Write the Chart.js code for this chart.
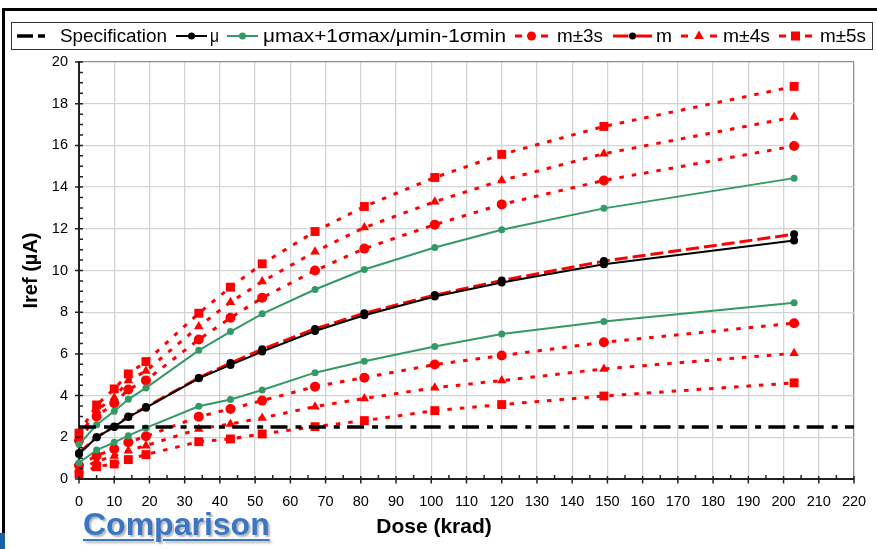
<!DOCTYPE html>
<html>
<head>
<meta charset="utf-8">
<script src="https://cdn.jsdelivr.net/npm/chart.js@4.4.1/dist/chart.umd.min.js"></script>
<style>
  html, body { margin: 0; padding: 0; background: #fff; }
  #wrap { position: relative; width: 877px; height: 549px; overflow: hidden; }
  #chart { position: absolute; left: 0; top: 0; }
  .bar { position: absolute; background: #000; }
  #comparison {
    position: absolute; left: 83px; top: 508px;
    font: bold 32px "Liberation Sans", Arial, sans-serif; line-height: 32px;
    color: #3a76c4; text-decoration: underline; text-decoration-thickness: 2px;
    text-underline-offset: 4px; text-shadow: 2px 2px 2px rgba(0,0,0,0.3);
  }
</style>
</head>
<body>
<div id="wrap">
  <canvas id="chart" width="877" height="549"></canvas>
  <div class="bar" style="left:2px;top:8px;width:875px;height:3px"></div>
  <div class="bar" style="left:2px;top:8px;width:3px;height:525px"></div>
  <div class="bar" style="left:0;top:533px;width:5px;height:16px;background:#1b5fa8"></div>
  <div id="comparison">Comparison</div>
</div>
<script>
// dose points (krad)
const doses = [0, 5, 10, 14, 19, 34, 43, 52, 67, 81, 101, 120, 149, 203];

// Iref (uA)
const mu   = [1.2, 2.0, 2.5, 2.97, 3.42, 4.83, 5.47, 6.11, 7.1, 7.85, 8.75, 9.42, 10.3, 11.44];
const muHi = [1.65, 2.6, 3.25, 3.82, 4.37, 6.17, 7.07, 7.92, 9.09, 10.05, 11.1, 11.95, 12.98, 14.43];
const muLo = [0.78, 1.39, 1.76, 2.08, 2.45, 3.49, 3.81, 4.27, 5.1, 5.65, 6.35, 6.95, 7.55, 8.45];
const m    = [1.25, 2.0, 2.52, 3.0, 3.45, 4.85, 5.56, 6.22, 7.2, 7.95, 8.82, 9.52, 10.45, 11.74];
const m3Hi = [1.85, 3.0, 3.63, 4.29, 4.73, 6.69, 7.73, 8.69, 10.0, 11.05, 12.2, 13.17, 14.32, 15.97];
const m3Lo = [0.65, 1.12, 1.44, 1.76, 2.05, 2.99, 3.36, 3.76, 4.43, 4.86, 5.49, 5.92, 6.56, 7.47];
const m4Hi = [2.02, 3.3, 3.9, 4.72, 5.18, 7.31, 8.48, 9.47, 10.9, 12.06, 13.3, 14.32, 15.6, 17.36];
const m4Lo = [0.45, 0.85, 1.1, 1.36, 1.6, 2.4, 2.64, 2.93, 3.47, 3.86, 4.38, 4.72, 5.28, 6.03];
const m5Hi = [2.2, 3.55, 4.32, 5.04, 5.63, 7.95, 9.2, 10.32, 11.87, 13.07, 14.46, 15.57, 16.91, 18.83];
const m5Lo = [0.25, 0.59, 0.72, 0.93, 1.17, 1.79, 1.92, 2.16, 2.51, 2.8, 3.28, 3.57, 3.98, 4.61];

// specification limit
const specX = [0, 220];
const specY = [2.5, 2.5];

const legendLabels = ['Specification', 'μ', 'μmax+1σmax/μmin-1σmin', 'm±3s', 'm', 'm±4s', 'm±5s'];

const RED = '#ff0000';
const GREEN = '#339966';

const pts = (xs, ys) => xs.map((x, i) => ({ x: x, y: ys[i] }));

const specStyle = { borderColor: '#000', borderWidth: 3.5, borderDash: [17, 8, 6, 7.3], pointRadius: 0 };
const muStyle = { borderColor: '#000', borderWidth: 2, pointRadius: 4, pointBackgroundColor: '#000', pointBorderWidth: 0 };
const greenStyle = { borderColor: GREEN, borderWidth: 2, pointRadius: 3.5, pointBackgroundColor: GREEN, pointBorderWidth: 0 };
const mStyle = { borderColor: RED, borderWidth: 3, borderDash: [13, 5], pointRadius: 4, pointBackgroundColor: '#000', pointBorderWidth: 0 };
const dotRed = { borderColor: RED, borderWidth: 3, borderDash: [4.5, 8], pointBackgroundColor: RED, pointBorderWidth: 0 };
const s3Style = Object.assign({}, dotRed, { pointStyle: 'circle', pointRadius: 5 });
const s4Style = Object.assign({}, dotRed, { pointStyle: 'triangle', pointRadius: 5.5 });
const s5Style = Object.assign({}, dotRed, { pointStyle: 'rect', pointRadius: 6.3 });

const mk = (label, data, style) => Object.assign({ label: label, data: data, tension: 0, clip: false, fill: false }, style);

const datasets = [
  mk('Specification', pts(specX, specY), specStyle),
  mk('μ', pts(doses, mu), muStyle),
  mk('μmax+1σmax', pts(doses, muHi), greenStyle),
  mk('μmin-1σmin', pts(doses, muLo), greenStyle),
  mk('m+3s', pts(doses, m3Hi), s3Style),
  mk('m-3s', pts(doses, m3Lo), s3Style),
  mk('m', pts(doses, m), mStyle),
  mk('m+4s', pts(doses, m4Hi), s4Style),
  mk('m-4s', pts(doses, m4Lo), s4Style),
  mk('m+5s', pts(doses, m5Hi), s5Style),
  mk('m-5s', pts(doses, m5Lo), s5Style)
];

// legend layout in the box: symbol start, symbol end, text start, text end
const legendSlots = [
  [17, 46, 60, 167], [176, 207, 210, 219], [227, 258, 263, 506], [515, 548, 557, 603],
  [613, 652, 656, 672], [681, 717, 723, 770], [779, 812, 820, 866]
];

function marker(ctx, kind, x, y, color) {
  ctx.fillStyle = color;
  ctx.beginPath();
  if (kind === 'circle') {
    ctx.arc(x, y, 4.5, 0, Math.PI * 2);
  } else if (kind === 'triangle') {
    ctx.moveTo(x, y - 5.5); ctx.lineTo(x + 4.8, y + 3); ctx.lineTo(x - 4.8, y + 3); ctx.closePath();
  } else if (kind === 'rect') {
    ctx.rect(x - 4.5, y - 4.5, 9, 9);
  } else if (kind === 'dot') {
    ctx.arc(x, y, 3.5, 0, Math.PI * 2);
  }
  ctx.fill();
}

function seg(ctx, x1, x2, y, color, w) {
  ctx.strokeStyle = color; ctx.lineWidth = w; ctx.setLineDash([]);
  ctx.beginPath(); ctx.moveTo(x1, y); ctx.lineTo(x2, y); ctx.stroke();
}

const legendPlugin = {
  id: 'boxLegend',
  afterDraw(chart) {
    const ctx = chart.ctx;
    const y = 36;
    ctx.save();
    ctx.fillStyle = '#fff';
    ctx.fillRect(11, 22, 861, 27);
    ctx.strokeStyle = '#333'; ctx.lineWidth = 1;
    ctx.strokeRect(11.5, 22.5, 861, 27);
    legendSlots.forEach((s, i) => {
      const [a, b, t0, t1] = s;
      const c = (a + b) / 2;
      if (i === 0) {
        seg(ctx, a, a + 16, y, '#000', 3.5); seg(ctx, a + 21, b - 1, y, '#000', 3.5);
      } else if (i === 1) {
        seg(ctx, a, b, y, '#000', 2); marker(ctx, 'dot', c, y, '#000');
      } else if (i === 2) {
        seg(ctx, a, b, y, GREEN, 2); marker(ctx, 'dot', c, y, GREEN);
      } else if (i === 4) {
        seg(ctx, a, c - 4, y, RED, 3); seg(ctx, c + 3, b, y, RED, 3); marker(ctx, 'dot', c, y, '#000');
      } else {
        seg(ctx, a, a + 7, y, RED, 3); seg(ctx, b - 7, b, y, RED, 3);
        marker(ctx, ['', '', '', 'circle', '', 'triangle', 'rect'][i], c, y, RED);
      }
      ctx.fillStyle = '#000';
      ctx.font = '18.5px "Liberation Sans", Arial, sans-serif';
      ctx.textBaseline = 'middle';
      ctx.textAlign = 'left';
      // stretch each label to the width it takes in the original
      const w = ctx.measureText(legendLabels[i]).width;
      ctx.save();
      ctx.translate(t0, y + 1);
      ctx.scale((t1 - t0) / w, 1);
      ctx.fillText(legendLabels[i], 0, 0);
      ctx.restore();
    });
    // x axis title
    ctx.font = 'bold 21px "Liberation Sans", Arial, sans-serif';
    ctx.textAlign = 'center';
    ctx.textBaseline = 'middle';
    ctx.fillText('Dose (krad)', 434, 527);
    ctx.restore();
  }
};

const tickPlugin = {
  id: 'crossTicks',
  afterDraw(chart) {
    const { ctx, scales: { x, y } } = chart;
    const x0 = x.getPixelForValue(0), y0 = y.getPixelForValue(0);
    ctx.save();
    ctx.strokeStyle = '#222'; ctx.lineWidth = 1.5;
    ctx.beginPath();
    for (let v = 0; v <= 220; v += 5) {
      const px = x.getPixelForValue(v);
      if (v % 10 === 0) { ctx.moveTo(px, y0 - 3); ctx.lineTo(px, y0 + 4.5); }
      else { ctx.moveTo(px, y0 - 4); ctx.lineTo(px, y0); }
    }
    for (let v = 0; v <= 20; v += 0.5) {
      const py = y.getPixelForValue(v);
      if (v % 2 === 0) { ctx.moveTo(x0 - 4, py); ctx.lineTo(x0 + 4, py); }
      else { ctx.moveTo(x0, py); ctx.lineTo(x0 + 4, py); }
    }
    ctx.stroke();
    ctx.restore();
  }
};

const tickFont = { family: '"Liberation Sans", Arial, sans-serif', size: 14.5 };

new Chart(document.getElementById('chart'), {
  type: 'line',
  data: { datasets: datasets },
  options: {
    responsive: false,
    animation: false,
    layout: { padding: { left: 0, top: 62, right: 23, bottom: 0 } },
    plugins: { legend: { display: false }, tooltip: { enabled: false } },
    scales: {
      x: {
        type: 'linear', min: 0, max: 220,
        afterFit: (s) => { s.height = 70; s.paddingLeft = 0; s.paddingRight = 0; },
        ticks: { stepSize: 10, autoSkip: false, maxRotation: 0, padding: 14, color: '#000', font: tickFont },
        grid: { drawTicks: false, lineWidth: 1.3, color: (c) => c.tick && c.tick.value === 220 ? '#8c8c8c' : '#d4d4d4' },
        border: { color: '#222', width: 2 }
      },
      y: {
        min: 0, max: 20,
        afterFit: (s) => { s.width = 79; s.paddingTop = 0; s.paddingBottom = 0; },
        ticks: { stepSize: 2, padding: 11, color: '#000', font: tickFont },
        grid: { drawTicks: false, lineWidth: 1.3, color: (c) => c.tick && c.tick.value === 20 ? '#8c8c8c' : '#d4d4d4' },
        border: { color: '#222', width: 2 },
        title: {
          display: true, text: 'Iref (µA)', color: '#000', padding: { top: 19 },
          font: { family: '"Liberation Sans", Arial, sans-serif', size: 20, weight: 'bold' }
        }
      }
    }
  },
  plugins: [legendPlugin, tickPlugin]
});
</script>
</body>
</html>
